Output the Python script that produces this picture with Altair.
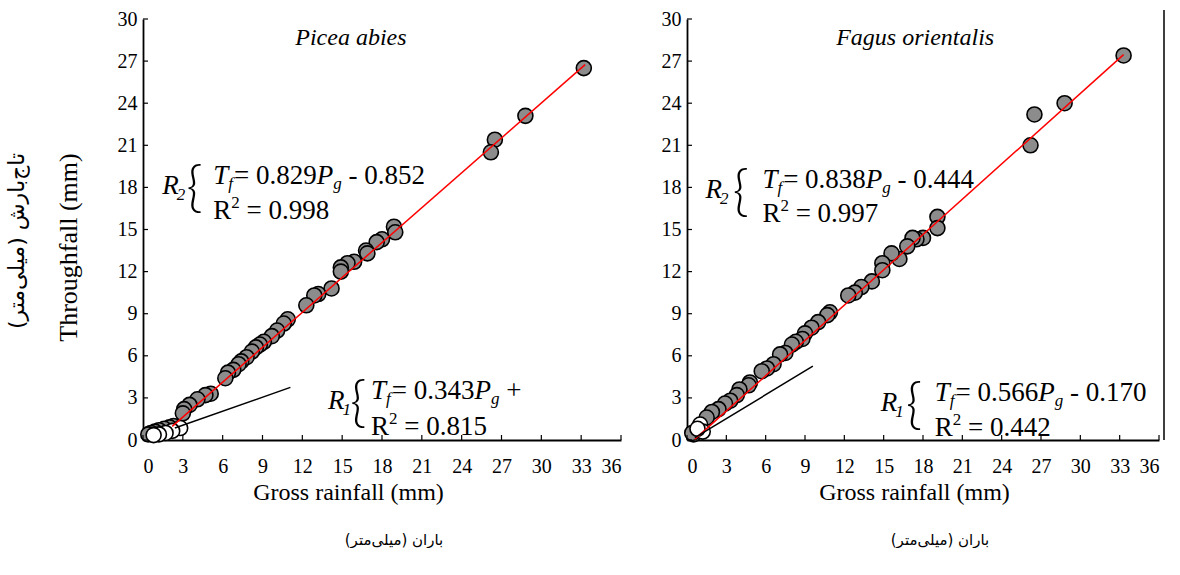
import altair as alt
import pandas as pd

# ---------------- data ----------------
x_ticks = [0, 3, 6, 9, 12, 15, 18, 21, 24, 27, 30, 33, 36]
y_ticks = [0, 3, 6, 9, 12, 15, 18, 21, 24, 27, 30]

# Picea abies
picea_fx = [33.2, 28.8, 26.5, 26.2, 18.9, 19.0, 18.0, 17.6, 16.8, 16.9, 15.9, 15.4, 14.9, 14.9,
            14.2, 13.2, 12.9, 12.3, 10.9, 10.6, 10.1, 9.7, 9.1, 8.8, 8.5, 8.2, 7.8, 7.4, 7.2,
            6.8, 6.4, 6.2, 5.1, 4.7, 4.1, 3.5, 3.1, 3.0, 2.3, 2.0, 1.6, 1.2, 0.9, 0.6, 0.4]
picea_fy = [26.5, 23.1, 21.4, 20.5, 15.2, 14.8, 14.3, 14.1, 13.5, 13.3, 12.7, 12.6, 12.3, 12.0,
            10.8, 10.4, 10.3, 9.6, 8.6, 8.3, 7.8, 7.4, 7.0, 6.8, 6.6, 6.3, 5.9, 5.6, 5.4,
            5.0, 4.8, 4.4, 3.3, 3.2, 2.9, 2.5, 2.2, 1.9, 1.0, 0.9, 0.8, 0.7, 0.6, 0.5, 0.4]
picea_ox = [2.8, 2.2, 1.7, 1.2, 0.8]
picea_oy = [0.85, 0.65, 0.5, 0.4, 0.35]
picea_r2_x = [2.2, 33.3]
picea_r2_y = [0.97, 26.75]
picea_r1_x = [2.4, 11.1]
picea_r1_y = [0.85, 3.75]

# Fagus orientalis
fagus_fx = [33.3, 28.8, 26.5, 26.2, 19.1, 19.1, 18.0, 17.5, 17.2, 16.8, 16.2, 15.6, 14.9, 14.9,
            14.1, 13.3, 12.8, 12.3, 10.9, 10.7, 10.0, 9.5, 9.0, 8.8, 8.3, 8.0, 7.5, 7.1, 6.6,
            6.1, 5.7, 4.8, 4.7, 4.0, 3.8, 3.3, 2.9, 2.4, 1.9, 1.5, 0.5, 0.4]
fagus_fy = [27.4, 24.0, 23.2, 21.0, 15.9, 15.1, 14.4, 14.3, 14.4, 13.8, 12.9, 13.3, 12.6, 12.1,
            11.3, 10.9, 10.5, 10.3, 9.1, 8.9, 8.4, 8.0, 7.6, 7.2, 7.0, 6.8, 6.2, 6.1, 5.4,
            5.1, 4.9, 4.1, 3.9, 3.6, 3.2, 2.8, 2.6, 2.2, 2.0, 1.6, 0.4, 0.5]
fagus_ox = [1.0, 1.2, 0.8]
fagus_oy = [1.1, 0.6, 0.8]
fagus_r2_x = [0.6, 33.3]
fagus_r2_y = [0.06, 27.46]
fagus_r1_x = [0.6, 9.6]
fagus_r1_y = [0.17, 5.26]

species = ["Picea abies", "Fagus orientalis"]
x_title = "Gross rainfall (mm)"
x_title_fa = "\u200fباران (میلی‌متر)\u200f"
y_title = "Throughfall (mm)"
y_title_fa = "\u200fتاج‌بارش (میلی‌متر)\u200f"

# equations: (label digit, slope text, constant text, r2 text)
eqs_picea = [("2", "0.829", "- 0.852", "0.998"), ("1", "0.343", "+", "0.815")]
eqs_fagus = [("2", "0.838", "- 0.444", "0.997"), ("1", "0.566", "- 0.170", "0.442")]

# ---------------- layout / style ----------------
WL, WR, H = 478, 472, 421
XD, YD = 36.0, 30.0
FONT = "Liberation Serif"
FS, FSS = 27, 17
GRAY = "#8c8c8c"

CW = {".": .25, " ": .25, "=": .564, "-": .333, "+": .564}


def tw(s, size):
    return sum(CW.get(c, .5) for c in s) * size


def eq_pieces(eq, W, xT, y1, y2, r_dx, b_dx):
    digit, slope, const, r2 = eq
    rows = []

    def add(t, dx, y, dy, size, kind):
        rows.append({"t": t, "x": xT + dx * XD / W, "y": y - dy * YD / H, "s": size, "k": kind})

    off = 0
    add("T", off, y1, 0, FS, "it"); off += .556 * FS
    add("f", off, y1, 5, FSS, "it"); off += .278 * FSS + 1
    s = "= " + slope
    add(s, off, y1, 0, FS, "rm"); off += tw(s, FS)
    add("P", off, y1, 0, FS, "it"); off += .611 * FS
    add("g", off, y1, 5, FSS, "it"); off += .5 * FSS + .25 * FS
    add(const, off, y1, 0, FS, "rm")
    # line 2
    add("R", 0, y2, 0, FS, "rm")
    add("2", .667 * FS, y2, -11, FSS, "rm")
    add("= " + r2, .667 * FS + .5 * FSS + .25 * FS, y2, 0, FS, "rm")
    # label + brace
    add("R", r_dx, y1, 10, FS, "it")
    add(digit, r_dx + .611 * FS - 2, y1, 16, FSS, "it")
    add("{", b_dx, y1, 22, 56, "br")
    return rows


def panel(W, fx, fy, ox, oy, r2x, r2y, r1x, r1y, ann_rows, sp_name, sp_x, show_ytitle,
          title_x, fa_x, border):
    pts = pd.DataFrame({"x": fx, "y": fy})
    opn = pd.DataFrame({"x": ox, "y": oy})
    l2 = pd.DataFrame({"x": r2x, "y": r2y})
    l1 = pd.DataFrame({"x": r1x, "y": r1y})
    ann = pd.DataFrame(ann_rows)
    xs = alt.Scale(domain=[0, 36], nice=False, zero=False)
    ys = alt.Scale(domain=[0, 30], nice=False, zero=False)

    yax = dict(values=y_ticks, labelPadding=6)
    if show_ytitle:
        yax.update(title=y_title, titlePadding=36, titleY=228, titleFontSize=26)
    else:
        yax.update(title=None)

    X = alt.X("x:Q", scale=xs, axis=alt.Axis(values=x_ticks, title=x_title, labelPadding=16,
                                              titlePadding=4, titleX=title_x))
    Y = alt.Y("y:Q", scale=ys, axis=alt.Axis(**yax))

    base = alt.Chart(pts).mark_point(
        shape="circle", filled=True, fill=GRAY, stroke="black", strokeWidth=1.6,
        size=225, opacity=1
    ).encode(x=X, y=Y)
    opens = alt.Chart(opn).mark_point(
        shape="circle", filled=True, fill="white", stroke="black", strokeWidth=1.6,
        size=225, opacity=1
    ).encode(x=X, y=Y)
    red = alt.Chart(l2).mark_line(color="#ff0000", strokeWidth=1.5).encode(x=X, y=Y)
    blk = alt.Chart(l1).mark_line(color="black", strokeWidth=1.5).encode(x=X, y=Y)

    xt = alt.Chart(pd.DataFrame({"x": x_ticks})).mark_rule(color="black", strokeWidth=1.2).encode(
        x=X, y=alt.value(H), y2=alt.value(H - 5))
    yt = alt.Chart(pd.DataFrame({"y": y_ticks})).mark_rule(color="black", strokeWidth=1.2).encode(
        y=Y, x=alt.value(0), x2=alt.value(5))

    def txt(kind):
        d = ann[ann["k"] == kind]
        props = dict(font=FONT, fontStyle="italic" if kind == "it" else "normal",
                     align="left", baseline="alphabetic", color="black")
        if kind == "br":
            props.update(font="Lato", fontWeight=300)
        return alt.Chart(d).mark_text(**props).encode(
            x=X, y=Y, text="t:N", size=alt.Size("s:Q", scale=None, legend=None))

    sp = alt.Chart(pd.DataFrame({"t": [sp_name], "x": [sp_x], "y": [28.15]})).mark_text(
        font=FONT, fontStyle="italic", fontSize=24, align="center", baseline="alphabetic",
        color="black"
    ).encode(x=X, y=Y, text="t:N")

    fa = alt.Chart(pd.DataFrame({"t": [x_title_fa]})).mark_text(
        font="DejaVu Sans", fontSize=15, align="center", baseline="middle", color="black"
    ).encode(x=alt.value(fa_x), y=alt.value(H + 100), text="t:N")

    layers = [base, opens, red, blk, xt, yt, txt("it"), txt("rm"), txt("br"), sp, fa]
    if show_ytitle:
        layers.append(alt.Chart(pd.DataFrame({"t": [y_title_fa]})).mark_text(
            font="DejaVu Sans", fontSize=22, angle=270, align="center", baseline="middle",
            color="black").encode(x=alt.value(-126), y=alt.value(222), text="t:N"))
    if border:
        layers.append(alt.Chart(pd.DataFrame({"a": [0]})).mark_rule(
            color="black", strokeWidth=1.5).encode(x=alt.value(W + 5), y=alt.value(-9), y2=alt.value(H)))
    return alt.layer(*layers).properties(width=W, height=H)


ann_left = eq_pieces(eqs_picea[0], WL, 5.29, 18.24, 15.75, -51, -27) + \
    eq_pieces(eqs_picea[1], WL, 17.17, 2.92, 0.36, -43, -21)
ann_right = eq_pieces(eqs_fagus[0], WR, 5.75, 17.96, 15.53, -57, -30) + \
    eq_pieces(eqs_fagus[1], WR, 18.9, 2.78, 0.29, -54, -29)

left = panel(WL, picea_fx, picea_fy, picea_ox, picea_oy, picea_r2_x, picea_r2_y, picea_r1_x,
             picea_r1_y, ann_left, species[0], 15.66, True, 205, 251, False)
right = panel(WR, fagus_fx, fagus_fy, fagus_ox, fagus_oy, fagus_r2_x, fagus_r2_y, fagus_r1_x,
              fagus_r1_y, ann_right, species[1], 17.4, False, 227, 253, True)

chart = alt.hconcat(left, right, spacing=39).properties(
    padding={"left": 6, "top": 9, "right": 0, "bottom": 0}
).configure_view(stroke=None).configure_axis(
    grid=False, ticks=False, domainColor="black", domainWidth=1.8,
    labelFont=FONT, labelFontSize=20, labelColor="black",
    titleFont=FONT, titleFontSize=24, titleFontWeight="normal", titleColor="black"
)

chart.save("out.html", embed_options={"renderer": "svg", "actions": False})
